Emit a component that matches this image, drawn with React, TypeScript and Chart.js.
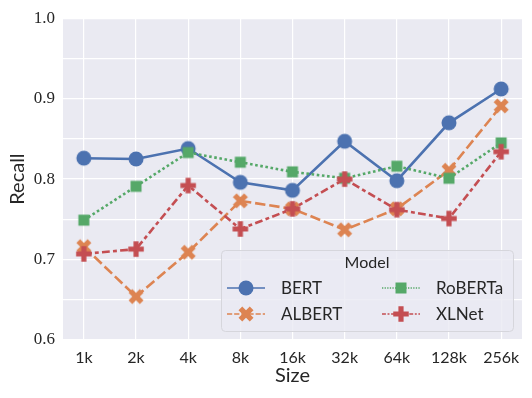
import React, { useEffect, useRef } from 'react';
import { Chart, registerables } from 'chart.js';

Chart.register(...registerables);

const sizes = ['1k', '2k', '4k', '8k', '16k', '32k', '64k', '128k', '256k'];
const models = ['BERT', 'ALBERT', 'RoBERTa', 'XLNet'];
const bert = [0.826, 0.825, 0.838, 0.796, 0.786, 0.847, 0.798, 0.870, 0.912];
const albert = [0.716, 0.654, 0.709, 0.773, 0.763, 0.737, 0.763, 0.811, 0.891];
const roberta = [0.749, 0.791, 0.833, 0.821, 0.809, 0.801, 0.816, 0.801, 0.845];
const xlnet = [0.707, 0.713, 0.792, 0.738, 0.763, 0.800, 0.762, 0.751, 0.834];
const yMin = 0.6;
const yMax = 1.0;

const colors = ['#4c72b0', '#dd8452', '#55a868', '#c44e52'];
const markerKinds = ['circle', 'x', 'square', 'plus'];
const LW = 2.6;
const dashes = [[], [4 * LW, 1.5 * LW], [1 * LW, 1 * LW], [3 * LW, 1.25 * LW, 1.5 * LW, 1.25 * LW]];
const LEG_LW = 1.3;
const TEXT = '#262626';
const SANS = 'Lato, "DejaVu Sans", sans-serif';
const SERIF = '"Liberation Serif", "DejaVu Serif", serif';

function drawMarker(ctx: CanvasRenderingContext2D, kind: string, color: string, cx: number, cy: number) {
  ctx.save();
  ctx.fillStyle = color;
  ctx.beginPath();
  if (kind === 'circle') {
    ctx.arc(cx, cy, 7.5, 0, Math.PI * 2);
  } else if (kind === 'square') {
    ctx.rect(cx - 5.5, cy - 5.5, 11, 11);
  } else if (kind === 'x') {
    const s = 15 / 4;
    const pts = [[-1, -2], [0, -1], [1, -2], [2, -1], [1, 0], [2, 1], [1, 2], [0, 1], [-1, 2], [-2, 1], [-1, 0], [-2, -1]];
    pts.forEach((p, i) => {
      const px = cx + p[0] * s;
      const py = cy + p[1] * s;
      if (i === 0) ctx.moveTo(px, py); else ctx.lineTo(px, py);
    });
    ctx.closePath();
  } else if (kind === 'plus') {
    const s = 15.5 / 6;
    const pts = [[-1, -3], [1, -3], [1, -1], [3, -1], [3, 1], [1, 1], [1, 3], [-1, 3], [-1, 1], [-3, 1], [-3, -1], [-1, -1]];
    pts.forEach((p, i) => {
      const px = cx + p[0] * s;
      const py = cy + p[1] * s;
      if (i === 0) ctx.moveTo(px, py); else ctx.lineTo(px, py);
    });
    ctx.closePath();
  }
  ctx.fill();
  ctx.restore();
}

function makeMarkerImage(kind: string, color: string): HTMLCanvasElement {
  const c = document.createElement('canvas');
  c.width = 18;
  c.height = 18;
  const ctx = c.getContext('2d')!;
  drawMarker(ctx, kind, color, 9, 9);
  return c;
}

const bgPlugin = {
  id: 'bgPlugin',
  beforeDraw(chart: any) {
    const { ctx, chartArea: a } = chart;
    ctx.save();
    ctx.fillStyle = '#eaeaf2';
    ctx.fillRect(a.left, a.top, a.right - a.left, a.bottom - a.top);
    ctx.restore();
  },
};

const legendPlugin = {
  id: 'customLegend',
  afterDraw(chart: any) {
    const { ctx, chartArea: a } = chart;
    const w = 292;
    const h = 81;
    const bx = a.right - 9 - w;
    const by = a.bottom - 9 - h;
    ctx.save();
    ctx.beginPath();
    if ((ctx as any).roundRect) (ctx as any).roundRect(bx + 0.5, by + 0.5, w, h, 4);
    else ctx.rect(bx + 0.5, by + 0.5, w, h);
    ctx.fillStyle = 'rgba(234,234,242,0.8)';
    ctx.fill();
    ctx.strokeStyle = '#d6d6dc';
    ctx.lineWidth = 1;
    ctx.stroke();

    ctx.fillStyle = TEXT;
    ctx.textBaseline = 'middle';
    ctx.textAlign = 'center';
    ctx.font = `16px ${SANS}`;
    ctx.fillText('Model', bx + w / 2, by + 13);

    ctx.textAlign = 'left';
    models.forEach((name, i) => {
      const col = i < 2 ? 0 : 1;
      const row = i % 2;
      const lx = bx + 6 + col * 155;
      const cy = by + 38 + row * 26;
      ctx.save();
      ctx.strokeStyle = colors[i];
      ctx.lineWidth = LEG_LW;
      ctx.setLineDash(dashes[i].map((d) => (d / LW) * LEG_LW));
      ctx.beginPath();
      ctx.moveTo(lx, cy);
      ctx.lineTo(lx + 38, cy);
      ctx.stroke();
      ctx.restore();
      drawMarker(ctx, markerKinds[i], colors[i], lx + 19, cy);
      ctx.fillStyle = TEXT;
      ctx.font = `17px ${SANS}`;
      ctx.fillText(name, lx + 54, cy + 1);
    });
    ctx.restore();
  },
};

export default function App() {
  const ref = useRef<HTMLCanvasElement>(null);

  useEffect(() => {
    document.body.style.margin = '0';
    const series = [bert, albert, roberta, xlnet];
    const chart = new Chart(ref.current!, {
      type: 'line',
      data: {
        datasets: series.map((vals, i) => ({
          label: models[i],
          data: vals.map((v, j) => ({ x: j, y: v })),
          borderColor: colors[i],
          backgroundColor: colors[i],
          borderWidth: LW,
          borderDash: dashes[i],
          pointStyle: makeMarkerImage(markerKinds[i], colors[i]) as any,
          pointRadius: 7,
          tension: 0,
          fill: false,
          order: 4 - i,
        })),
      },
      options: {
        animation: false,
        responsive: false,
        devicePixelRatio: 1,
        layout: { padding: { top: 17, right: 10, left: 0, bottom: 0 } },
        plugins: { legend: { display: false }, tooltip: { enabled: false } },
        scales: {
          x: {
            type: 'linear',
            min: -0.4,
            max: 8.4,
            border: { display: false },
            grid: { color: '#ffffff', lineWidth: 1.2, drawTicks: false },
            ticks: {
              stepSize: 1,
              includeBounds: false,
              autoSkip: false,
              maxRotation: 0,
              padding: 8,
              color: TEXT,
              font: { family: SANS, size: 16 },
              callback: (v: any) => sizes[Number(v)] ?? '',
            },
            title: {
              display: true,
              text: 'Size',
              color: TEXT,
              font: { family: SANS, size: 20 },
              padding: { top: 0, bottom: 10 },
            },
            afterFit: (s: any) => {
              s.height = 58;
            },
          },
          y: {
            min: yMin,
            max: yMax,
            border: { display: false },
            grid: { color: '#ffffff', lineWidth: 1.2, drawTicks: false },
            ticks: {
              stepSize: 0.05,
              autoSkip: false,
              padding: 8,
              color: TEXT,
              font: { family: SERIF, size: 17 },
              callback: (v: any) => {
                const n = Number(v) * 10;
                return Math.abs(n - Math.round(n)) < 1e-6 ? Number(v).toFixed(1) : '';
              },
            },
            title: {
              display: true,
              text: 'Recall',
              color: TEXT,
              font: { family: SANS, size: 20 },
              padding: { top: 6, bottom: 0 },
            },
            afterFit: (s: any) => {
              s.width = 63;
            },
          },
        },
      },
      plugins: [bgPlugin, legendPlugin],
    });
    return () => chart.destroy();
  }, []);

  return (
    <div style={{ width: 532, height: 398 }}>
      <canvas ref={ref} width={532} height={398} />
    </div>
  );
}
